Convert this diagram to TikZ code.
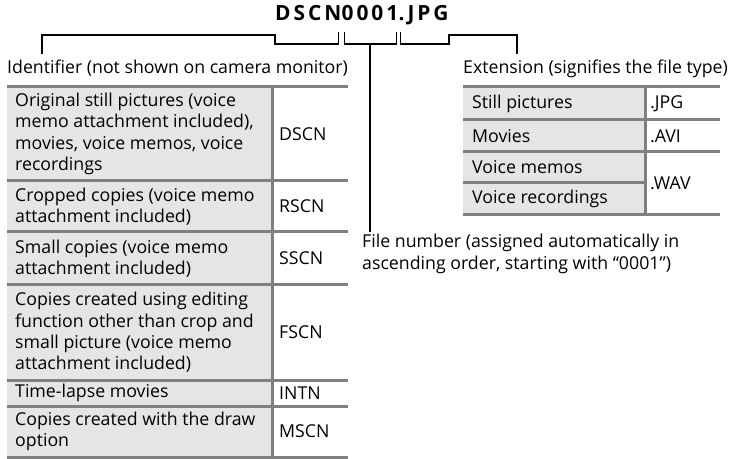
\documentclass[tikz,border=0pt]{standalone}
\usepackage{fontspec}
\setmainfont{Open Sans}
\newfontfamily\baslikfont[LetterSpace=14]{Open Sans}
\usetikzlibrary{positioning}

\tikzset{
  govde/.style={font=\fontsize{17.8}{21.5}\selectfont, inner sep=0pt, align=left},
  baslik/.style={font=\baslikfont\bfseries\fontsize{21}{24}\selectfont, inner sep=0pt},
  parantez/.style={line width=1.8bp, line join=miter},
  cizgi/.style={gray, line width=3bp},
}

\begin{document}
\begin{tikzpicture}[x=1bp, y=-1bp]
\useasboundingbox (0,0) rectangle (735,459);

% Dosya adi (uc parca)
\node[baslik, anchor=base west] (ttlA) at (275,21) {DSCN};
\node[baslik, anchor=base west] (ttlB) at (ttlA.base east) {0001};
\node[baslik, anchor=base west] (ttlC) at (ttlB.base east) {.JPG};

% Etiketler
\node[govde, anchor=base west] (idlabel) at (7,74) {Identifier (not shown on camera monitor)};
\node[govde, anchor=base west] (extlabel) at (463,74) {Extension (signifies the file type)};
\node[govde, anchor=north west] (fnum) at (362,234) {File number (assigned automatically in\\ascending order, starting with “0001”)};
\coordinate (idtick) at ([xshift=35bp, yshift=6bp]idlabel.north west);
\coordinate (exttick) at ([xshift=54bp, yshift=6bp]extlabel.north west);
\coordinate (fnumtop) at ([yshift=2bp]fnum.north);

% Parantezler
\draw[parantez] (idtick) |- ([yshift=-14bp]ttlA.base west) |- ([xshift=-3bp, yshift=-23bp]ttlA.base east) -- ([xshift=-3bp, yshift=-11bp]ttlA.base east);
\draw[parantez] ([xshift=3bp, yshift=-11bp]ttlB.base west) |- ([xshift=-2bp, yshift=-23bp]ttlB.base east) -- ([xshift=-2bp, yshift=-11bp]ttlB.base east);
\draw[parantez] ([yshift=-23bp]ttlB.base) -- (ttlB.base |- fnumtop);
\draw[parantez] ([xshift=2bp, yshift=-11bp]ttlC.base west) |- ([yshift=-23bp]ttlC.base east) -- ([yshift=-14bp]ttlC.base east) -| (exttick);

% Sol tablo: zemin ve cizgiler
\fill[gray!20] (7,87) rectangle (272,457);
\draw[cizgi] (7,87) -- (348,87);
\draw[cizgi] (7,181) -- (348,181);
\draw[cizgi] (7,232) -- (348,232);
\draw[cizgi] (7,285) -- (348,285);
\draw[cizgi] (7,380) -- (348,380);
\draw[cizgi] (7,406) -- (348,406);
\draw[cizgi] (7,457) -- (348,457);
\draw[cizgi] (272,87) -- (272,457);

% Sol tablo: metinler
\node[govde, anchor=west] (orig) at (15,134) {Original still pictures (voice\\memo attachment included),\\movies, voice memos, voice\\recordings};
\node[govde, anchor=west] (crop) at (15,206.5) {Cropped copies (voice memo\\attachment included)};
\node[govde, anchor=west] (small) at (15,258.5) {Small copies (voice memo\\attachment included)};
\node[govde, anchor=west] (edit) at (15,332.5) {Copies created using editing\\function other than crop and\\small picture (voice memo\\attachment included)};
\node[govde, anchor=west] (tlapse) at (15,393) {Time-lapse movies};
\node[govde, anchor=west] (draw) at (15,431.5) {Copies created with the draw\\option};
\node[govde, anchor=west] (dscn) at (279,134) {DSCN};
\node[govde, anchor=west] (rscn) at (279,206.5) {RSCN};
\node[govde, anchor=west] (sscn) at (279,258.5) {SSCN};
\node[govde, anchor=west] (fscn) at (279,332.5) {FSCN};
\node[govde, anchor=west] (intn) at (279,393) {INTN};
\node[govde, anchor=west] (mscn) at (279,431.5) {MSCN};

% Sag tablo: zemin ve cizgiler
\fill[gray!20] (463,87) rectangle (645,215);
\draw[cizgi] (463,87) -- (720,87);
\draw[cizgi] (463,120) -- (720,120);
\draw[cizgi] (463,152) -- (720,152);
\draw[cizgi] (463,183) -- (645,183);
\draw[cizgi] (463,215) -- (720,215);
\draw[cizgi] (645,87) -- (645,215);

% Sag tablo: metinler
\node[govde, anchor=west] (still) at (472,103.5) {Still pictures};
\node[govde, anchor=west] (movies) at (472,136) {Movies};
\node[govde, anchor=west] (vmemo) at (472,167.5) {Voice memos};
\node[govde, anchor=west] (vrec) at (472,199) {Voice recordings};
\node[govde, anchor=west] (jpg) at (650,103.5) {.JPG};
\node[govde, anchor=west] (avi) at (650,136) {.AVI};
\node[govde, anchor=west] (wav) at (650,183.5) {.WAV};
\end{tikzpicture}
\end{document}
